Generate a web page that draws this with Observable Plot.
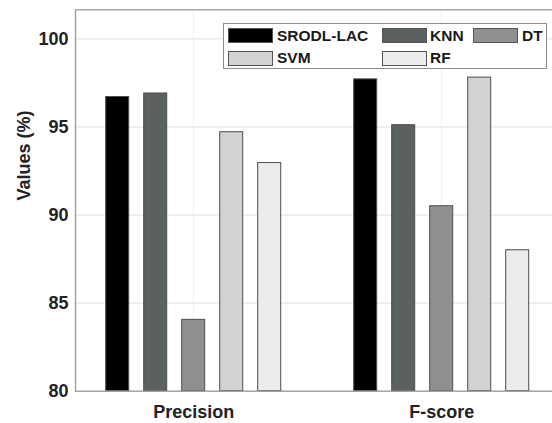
<!DOCTYPE html>
<html>
<head>
<meta charset="utf-8">
<script src="https://cdn.jsdelivr.net/npm/d3@7"></script>
<script src="https://cdn.jsdelivr.net/npm/@observablehq/plot@0.6"></script>
<style>
  html, body { margin: 0; padding: 0; background: #fff; overflow: hidden; }
  #wrap { position: relative; width: 552px; height: 423px; overflow: hidden; }
  #chart { position: absolute; left: 0; top: 0; width: 572px; }
  #chart svg { max-width: none !important; }
  #legend { position: absolute; left: 223px; top: 23px; width: 324px; height: 46px;
    border: 1px solid #8c8c8c; background: #fff; box-sizing: border-box;
    font-family: "Liberation Sans", Arial, sans-serif; font-weight: bold; font-size: 15.5px; color: #1a1a1a; }
  .sw { position: absolute; width: 45px; height: 15px; border: 1px solid #555; box-sizing: border-box; }
  .lb { position: absolute; line-height: 16px; }
</style>
</head>
<body>
<div id="wrap"><div id="chart"></div><div id="legend"></div></div>
<script>
const categories = ["Precision", "F-score"];
const models = ["SRODL-LAC", "KNN", "DT", "SVM", "RF"];
const precisionValues = [96.7, 96.9, 84.05, 94.7, 92.95];
const fscoreValues = [97.7, 95.1, 90.5, 97.8, 88.0];
const modelColors = ["#000000", "#5b6061", "#8e8f8f", "#d2d2d2", "#ececec"];
const yTicks = [80, 85, 90, 95, 100];

const seriesByCategory = [precisionValues, fscoreValues];
const data = [];
categories.forEach((c, i) => models.forEach((m, j) => data.push({category: c, model: m, value: seriesByCategory[i][j]})));
const middleModel = models[Math.floor(models.length / 2)];
const centerRows = categories.map(c => ({category: c, model: middleModel}));

const chart = Plot.plot({
  width: 572,
  height: 423,
  marginLeft: 74.3,
  marginRight: 0.1,
  marginTop: 9.3,
  marginBottom: 32.3,
  style: {fontFamily: "'Liberation Sans', Arial, sans-serif", fontWeight: "bold", fontSize: "18px", color: "#222", background: "#fff", maxWidth: "none"},
  fx: {domain: categories, paddingInner: 0, paddingOuter: 0, axis: null, label: null},
  x: {domain: models, paddingInner: 0.386, paddingOuter: 0.941, align: 0.417, axis: null},
  y: {domain: [80, 101.65], label: null},
  color: {domain: models, range: modelColors},
  marks: [
    Plot.gridY(yTicks, {stroke: "#dedede", strokeOpacity: 1, strokeWidth: 1}),
    Plot.rectY(centerRows, {fx: "category", x: "model", y1: 80, y2: 101.65, fill: "#dedede", insetLeft: 11.25, insetRight: 11.25}),
    Plot.barY(data, {fx: "category", x: "model", y1: 80, y2: "value", fill: "model", stroke: "#4d4d4d", strokeWidth: 1}),
    Plot.frame({facet: "super", stroke: "#9a9a9a", strokeWidth: 1.3}),
    Plot.axisY(yTicks, {tickSize: 0, tickPadding: 7, fontSize: 18, label: null}),
    Plot.text(centerRows, {fx: "category", x: "model", text: "category", frameAnchor: "bottom", dy: 21.5, lineAnchor: "middle", fontSize: 18, fill: "#222"}),
    Plot.text(["Values (%)"], {facet: "super", frameAnchor: "left", dx: -51, rotate: -90, fontSize: 18, fill: "#222"})
  ]
});
document.getElementById("chart").appendChild(chart);

const legend = document.getElementById("legend");
const colX = [4, 158, 249];
const labX = [53, 206, 298];
const rowY = [4, 26.5];
models.forEach((m, i) => {
  const col = i % 3, row = Math.floor(i / 3);
  const sw = document.createElement("div");
  sw.className = "sw";
  sw.style.left = colX[col] + "px";
  sw.style.top = rowY[row] + "px";
  sw.style.background = modelColors[i];
  legend.appendChild(sw);
  const lb = document.createElement("div");
  lb.className = "lb";
  lb.style.left = labX[col] + "px";
  lb.style.top = (rowY[row] - 0.5) + "px";
  lb.textContent = m;
  legend.appendChild(lb);
});
</script>
</body>
</html>
